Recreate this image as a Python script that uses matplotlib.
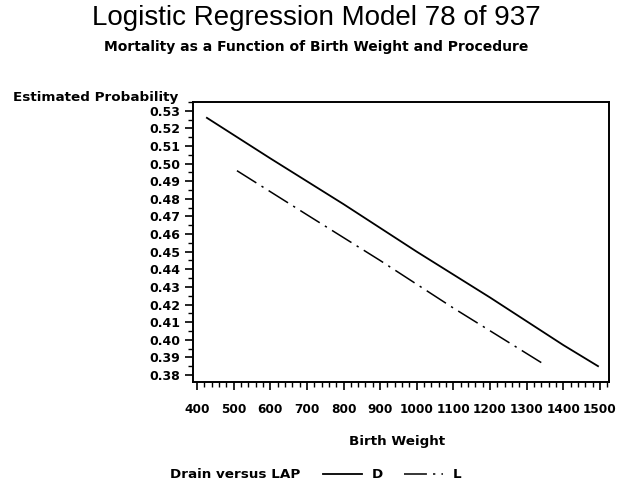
import matplotlib.pyplot as plt
from matplotlib.ticker import MultipleLocator, FormatStrFormatter

# birth weight (g) and estimated probability for each procedure
bw_D = [427, 600, 800, 1000, 1200, 1400, 1495]
prob_D = [0.526, 0.503, 0.477, 0.450, 0.424, 0.397, 0.385]
bw_L = [509, 700, 900, 1100, 1348]
prob_L = [0.496, 0.471, 0.445, 0.418, 0.386]

x_ticks = [400, 500, 600, 700, 800, 900, 1000, 1100, 1200, 1300, 1400, 1500]

W, H = 627, 484
fig = plt.figure(figsize=(W/100, H/100), dpi=100)
ax = fig.add_axes([193/W, 1-382/H, (609-193)/W, (382-102)/H])

lab = dict(family='DejaVu Sans', weight='bold', size=9.7)

lD, = ax.plot(bw_D, prob_D, color='black', lw=1.3, label='D')
lL, = ax.plot(bw_L, prob_L, color='black', lw=1.1, linestyle=(0, (15, 4, 1.5, 4)), label='L')

ax.set_xlim(389, 1525)
ax.set_ylim(0.376, 0.535)
ax.set_xticks(x_ticks)
ax.xaxis.set_minor_locator(MultipleLocator(20))
ax.yaxis.set_major_locator(MultipleLocator(0.01))
ax.yaxis.set_minor_locator(MultipleLocator(0.005))
ax.yaxis.set_major_formatter(FormatStrFormatter('%.2f'))
ax.tick_params(which='major', direction='out', length=6, width=1.2, pad=3)
ax.tick_params(which='minor', direction='out', length=3.5, width=1.0)
ax.tick_params(axis='x', which='major', pad=9)
for t in ax.get_xticklabels():
    t.set_fontfamily('DejaVu Sans')
    t.set_fontweight('bold')
    t.set_fontsize(8.7)
for t in ax.get_yticklabels():
    t.set_fontfamily('DejaVu Sans')
    t.set_fontweight('bold')
    t.set_fontsize(9)
for s in ax.spines.values():
    s.set_linewidth(1.4)

fig.text(13/W, 1-97/H, 'Estimated Probability', ha='left', va='center', **lab)
fig.text(397/W, 1-442/H, 'Birth Weight', ha='center', va='center', **lab)

fig.text(316/W, 1-18/H, 'Logistic Regression Model 78 of 937', ha='center', va='center',
         family='Liberation Sans', size=20)
fig.text(316/W, 1-47/H, 'Mortality as a Function of Birth Weight and Procedure',
         ha='center', va='center', family='DejaVu Sans', weight='bold', size=10)

fig.text(170/W, 1-475/H, 'Drain versus LAP', ha='left', va='center', **lab)
leg = fig.legend(handles=[lD, lL], loc='center left', bbox_to_anchor=(323/W, 1-475/H),
                 ncol=2, frameon=False, borderaxespad=0, borderpad=0,
                 handlelength=2.9, handletextpad=0.7, columnspacing=1.6,
                 prop={'family': 'DejaVu Sans', 'weight': 'bold', 'size': 9.7})

fig.savefig('out.png', dpi=100)
